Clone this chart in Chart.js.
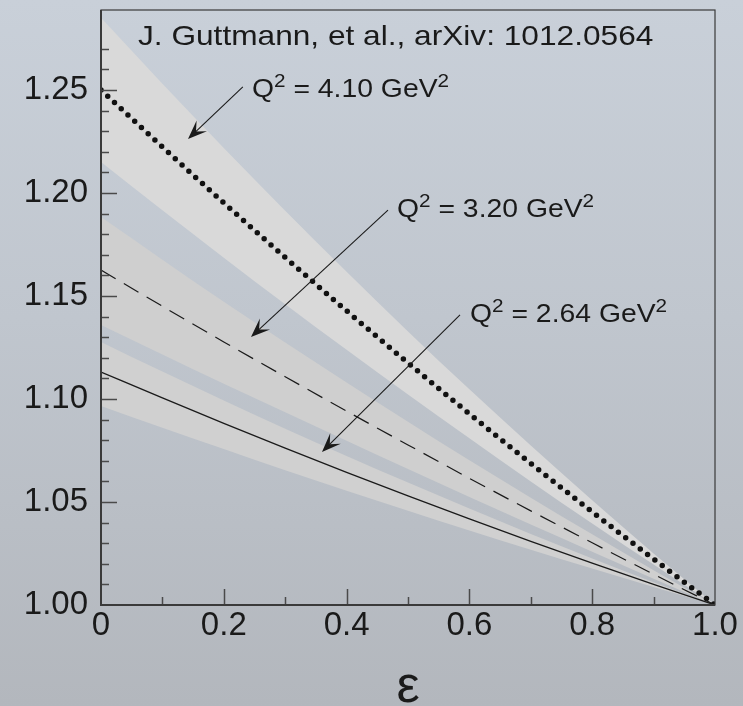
<!DOCTYPE html>
<html>
<head>
<meta charset="utf-8">
<script src="https://cdn.jsdelivr.net/npm/chart.js@4.4.1/dist/chart.umd.min.js"></script>
<style>
  html, body { margin: 0; padding: 0; }
  body {
    width: 743px; height: 706px; overflow: hidden;
    background: linear-gradient(180deg, #c9d0d9 0%, #c0c6ce 45%, #b3b7bd 100%);
  }
  canvas { display: block; }
</style>
</head>
<body>
<canvas id="ratioChart" width="743" height="706"></canvas>
<script>
// epsilon values and ratio curves
const eps = [0, 0.1, 0.2, 0.3, 0.4, 0.5, 0.6, 0.7, 0.8, 0.9, 1.0];

const r410   = [1.2500, 1.2223, 1.1952, 1.1687, 1.1428, 1.1175, 1.0928, 1.0687, 1.0452, 1.0223, 1.0000];
const r410Hi = [1.2850, 1.2530, 1.2218, 1.1914, 1.1617, 1.1328, 1.1047, 1.0774, 1.0508, 1.0250, 1.0000];
const r410Lo = [1.2150, 1.1916, 1.1686, 1.1460, 1.1239, 1.1022, 1.0809, 1.0600, 1.0396, 1.0196, 1.0000];

const r320   = [1.1626, 1.1450, 1.1277, 1.1108, 1.0941, 1.0777, 1.0615, 1.0457, 1.0302, 1.0149, 1.0000];
const r320Hi = [1.1883, 1.1676, 1.1472, 1.1274, 1.1080, 1.0889, 1.0702, 1.0521, 1.0343, 1.0169, 1.0000];
const r320Lo = [1.1359, 1.1216, 1.1074, 1.0935, 1.0797, 1.0660, 1.0524, 1.0391, 1.0259, 1.0128, 1.0000];

const r264   = [1.1131, 1.1005, 1.0882, 1.0761, 1.0644, 1.0530, 1.0418, 1.0309, 1.0203, 1.0100, 1.0000];
const r264Hi = [1.1277, 1.1133, 1.0993, 1.0856, 1.0723, 1.0594, 1.0468, 1.0345, 1.0226, 1.0111, 1.0000];
const r264Lo = [1.0966, 1.0860, 1.0757, 1.0654, 1.0555, 1.0458, 1.0362, 1.0268, 1.0177, 1.0087, 1.0000];

const q2Values = ["4.10", "3.20", "2.64"];
const yTickLabels = ["1.00", "1.05", "1.10", "1.15", "1.20", "1.25"];
const xTickLabels = ["0", "0.2", "0.4", "0.6", "0.8", "1.0"];
const sourceText = "J. Guttmann, et al., arXiv: 1012.0564";
const axisTitle = "\u03b5";

const FONT = '"Liberation Sans", Arial, Helvetica, sans-serif';

function pts(arr) {
  return eps.map((e, i) => ({ x: e, y: arr[i] }));
}

function band(hi, lo, color) {
  return [
    { data: pts(hi), borderWidth: 0, borderColor: "rgba(0,0,0,0)", backgroundColor: color, fill: "+1", pointRadius: 0, cubicInterpolationMode: "monotone" },
    { data: pts(lo), borderWidth: 0, borderColor: "rgba(0,0,0,0)", fill: false, pointRadius: 0, cubicInterpolationMode: "monotone" }
  ];
}

// where the labels and arrows go, in data units (eps, ratio)
const notes = [
  { label: 0, at: [0.2459, 1.2466], from: [0.231, 1.2515], to: [0.1417, 1.2262] },
  { label: 1, at: [0.4821, 1.1883], from: [0.4674, 1.1917], to: [0.2443, 1.1301] },
  { label: 2, at: [0.601, 1.1374], from: [0.5847, 1.1408], to: [0.3599, 1.0743] }
];

function arrow(ctx, x1, y1, x2, y2) {
  const a = Math.atan2(y2 - y1, x2 - x1);
  ctx.beginPath();
  ctx.moveTo(x1, y1);
  ctx.lineTo(x2 - 10 * Math.cos(a), y2 - 10 * Math.sin(a));
  ctx.stroke();
  ctx.save();
  ctx.translate(x2, y2);
  ctx.rotate(a);
  ctx.beginPath();
  ctx.moveTo(0, 0);
  ctx.lineTo(-19, -7.5);
  ctx.lineTo(-11, 0);
  ctx.lineTo(-19, 7.5);
  ctx.closePath();
  ctx.fill();
  ctx.restore();
}

function q2Label(ctx, x, y, val) {
  const parts = [["Q", false], ["2", true], [" = " + val + " GeV", false], ["2", true]];
  ctx.save();
  ctx.translate(x, y);
  ctx.scale(1.09, 1);
  ctx.textBaseline = "alphabetic";
  ctx.textAlign = "left";
  let cx = 0;
  parts.forEach(p => {
    ctx.font = (p[1] ? 19 : 26) + "px " + FONT;
    ctx.fillText(p[0], cx, p[1] ? -10 : 0);
    cx += ctx.measureText(p[0]).width;
  });
  ctx.restore();
}

const framePlugin = {
  id: "frame",
  afterDatasetsDraw(chart) {
    const ctx = chart.ctx;
    const xs = chart.scales.x, ys = chart.scales.y;
    const ca = chart.chartArea;
    ctx.save();

    // inward ticks
    ctx.strokeStyle = "#4a4a4a";
    ctx.lineWidth = 1.5;
    ys.ticks.forEach(t => {
      const k = Math.round(t.value * 100);
      if (Math.abs(t.value * 100 - k) > 1e-6 || k === 100) return;
      const len = k % 5 === 0 ? 16 : 8;
      const py = Math.round(ys.getPixelForValue(t.value)) + 0.5;
      ctx.beginPath(); ctx.moveTo(ca.left, py); ctx.lineTo(ca.left + len, py); ctx.stroke();
    });
    xs.ticks.forEach(t => {
      const k = Math.round(t.value * 10);
      if (Math.abs(t.value * 10 - k) > 1e-6 || k === 0 || k === 10) return;
      const len = k % 2 === 0 ? 16 : 8;
      const px = Math.round(xs.getPixelForValue(t.value)) + 0.5;
      ctx.beginPath(); ctx.moveTo(px, ca.bottom); ctx.lineTo(px, ca.bottom - len); ctx.stroke();
    });

    // box
    ctx.strokeStyle = "#3a3a3a";
    ctx.lineWidth = 1.2;
    ctx.strokeRect(ca.left, ca.top, ca.right - ca.left, ca.bottom - ca.top);
    ctx.lineWidth = 2;
    ctx.beginPath();
    ctx.moveTo(ca.left, ca.top); ctx.lineTo(ca.left, ca.bottom); ctx.lineTo(ca.right, ca.bottom);
    ctx.stroke();

    // arrows and labels
    ctx.strokeStyle = "#1a1a1a";
    ctx.fillStyle = "#1a1a1a";
    ctx.lineWidth = 1.1;
    notes.forEach(n => {
      arrow(ctx,
        xs.getPixelForValue(n.from[0]), ys.getPixelForValue(n.from[1]),
        xs.getPixelForValue(n.to[0]), ys.getPixelForValue(n.to[1]));
      q2Label(ctx, xs.getPixelForValue(n.at[0]), ys.getPixelForValue(n.at[1]), q2Values[n.label]);
    });

    // source line
    ctx.save();
    ctx.translate(ca.left + 37, ca.top + 35);
    ctx.scale(1.13, 1);
    ctx.font = "28px " + FONT;
    ctx.textAlign = "left";
    ctx.textBaseline = "alphabetic";
    ctx.fillText(sourceText, 0, 0);
    ctx.restore();

    // axis title
    ctx.font = "52px " + FONT;
    ctx.textAlign = "center";
    ctx.textBaseline = "middle";
    ctx.fillText(axisTitle, (ca.left + ca.right) / 2, 688);

    ctx.restore();
  }
};

const ctx = document.getElementById("ratioChart").getContext("2d");
const chart = new Chart(ctx, {
  type: "line",
  data: {
    datasets: [
      ...band(r410Hi, r410Lo, "#d9d9d9"),
      ...band(r320Hi, r320Lo, "#cfcfcf"),
      ...band(r264Hi, r264Lo, "#d0d0d0"),
      { data: pts(r264), borderColor: "#1a1a1a", borderWidth: 1.3, fill: false, pointRadius: 0, cubicInterpolationMode: "monotone" },
      { data: pts(r320), borderColor: "#1a1a1a", borderWidth: 1.2, borderDash: [17, 9.5], fill: false, pointRadius: 0, cubicInterpolationMode: "monotone" },
      { data: pts(r410), borderColor: "#111111", borderWidth: 5.5, borderDash: [0, 9.2], borderCapStyle: "round", fill: false, pointRadius: 0, cubicInterpolationMode: "monotone" }
    ]
  },
  options: {
    responsive: false,
    animation: false,
    layout: { padding: { top: 10, right: 28, left: 0, bottom: 0 } },
    plugins: {
      legend: { display: false },
      tooltip: { enabled: false },
      filler: { drawTime: "beforeDatasetsDraw" }
    },
    scales: {
      x: {
        type: "linear",
        min: 0,
        max: 1,
        grid: { display: false, drawTicks: false },
        border: { display: false },
        ticks: {
          stepSize: 0.1,
          autoSkip: false,
          maxRotation: 0,
          padding: 4,
          color: "#1a1a1a",
          font: { family: FONT, size: 33, lineHeight: 1 },
          callback: (v) => {
            const k = v / 0.2;
            return Math.abs(k - Math.round(k)) < 1e-6 ? xTickLabels[Math.round(k)] : "";
          }
        },
        afterFit: (s) => { s.height = 101; s.paddingLeft = 0; s.paddingRight = 0; }
      },
      y: {
        min: 1.0,
        max: 1.2888,
        grid: { display: false, drawTicks: false },
        border: { display: false },
        ticks: {
          stepSize: 0.01,
          autoSkip: false,
          padding: 13,
          color: "#1a1a1a",
          font: { family: FONT, size: 33 },
          callback: (v) => {
            const k = (v - 1) / 0.05;
            const i = Math.round(k);
            return Math.abs(k - i) < 1e-6 && i < yTickLabels.length ? yTickLabels[i] : "";
          }
        },
        afterFit: (s) => { s.width = 101; s.paddingTop = 0; s.paddingBottom = 0; }
      }
    }
  },
  plugins: [framePlugin]
});
</script>
</body>
</html>
